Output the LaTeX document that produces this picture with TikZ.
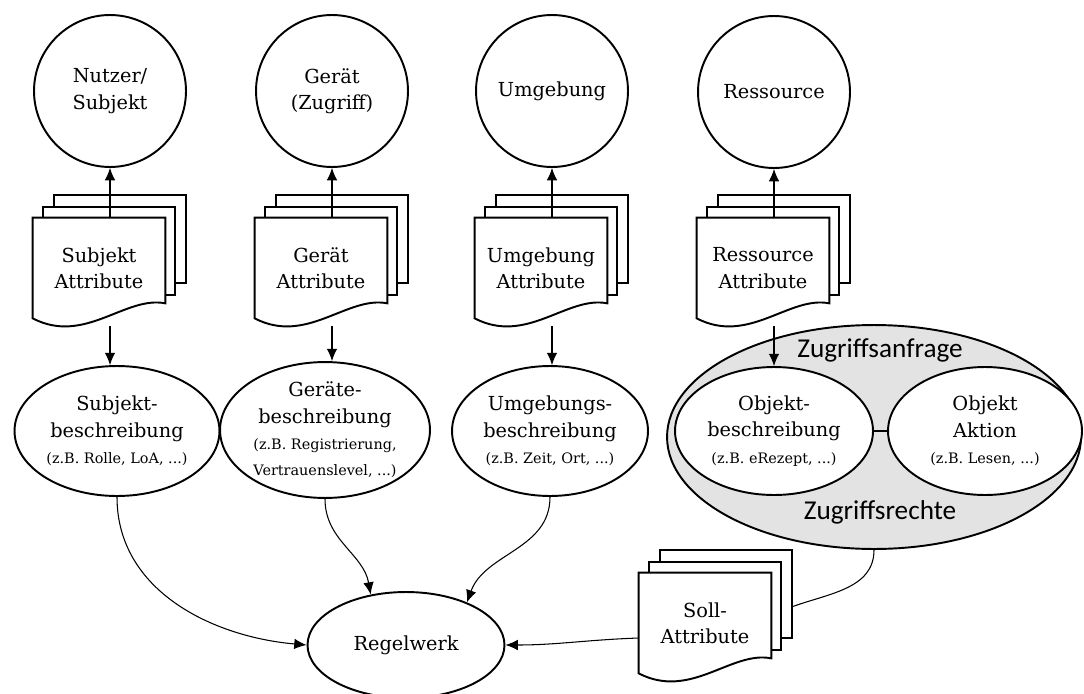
\documentclass[tikz,border=0pt]{standalone}
\usepackage{fontspec}
\setmainfont{DejaVu Serif}
\newfontfamily\labelfont{Carlito}
\usepackage{tikz}
\usetikzlibrary{shapes,arrows.meta,positioning,backgrounds}

\newcommand{\subtext}{\fontsize{8.2}{11.5}\selectfont}

% Stapel von Attribut-Dokumenten
\newcommand{\attrstack}[3]{%
  \node[attrdoc] (#1) at (#2) {#3};
  \begin{pgfonlayer}{background}
    \draw[sheet] ([shift={(21,-23)}]#1.north west) rectangle ([shift={(21,65)}]#1.north east);
    \draw[sheet] ([shift={(10,-11)}]#1.north west) rectangle ([shift={(10,77)}]#1.north east);
    \draw[sheet] (#1.north west) -- (#1.north east) -- ([shift={(0,-15)}]#1.south east)
      .. controls ([shift={(-40,-23)}]#1.south east) and ([shift={(52,27)}]#1.south west) .. (#1.south west) -- cycle;
  \end{pgfonlayer}
}

\tikzset{
  entity/.style={circle, draw, line width=1.1pt, minimum size=3.04cm, align=center, inner sep=0pt},
  attrdoc/.style={rectangle, minimum width=2.64cm, minimum height=2cm, inner sep=0pt, align=center},
  sheet/.style={draw, line width=1.1pt, fill=white},
  desc/.style={ellipse, draw, line width=1.1pt, fill=white, align=center, inner sep=0pt},
  conn/.style={-{Latex[length=7pt,width=6pt]}, line width=0.6pt},
  plain/.style={line width=0.6pt},
  grouplabel/.style={font=\labelfont\fontsize{15.5}{17}\selectfont},
}

\begin{document}
\begin{tikzpicture}[x=0.02cm, y=-0.02cm, font=\fontsize{11}{15}\selectfont]
    \useasboundingbox (0,0) rectangle (1084,693);

    % Entitaeten
    \node[entity] (nutzer) at (110,91) {Nutzer/\\Subjekt};
    \node[entity] (geraet) at (332,91) {Gerät\\(Zugriff)};
    \node[entity] (umgebung) at (552,91) {Umgebung};
    \node[entity] (ressource) at (774,92) {Ressource};

    % Attribute
    \attrstack{subattr}{99,268}{Subjekt\\Attribute}
    \attrstack{geraetattr}{321,268}{Gerät\\Attribute}
    \attrstack{umgattr}{541,268}{Umgebung\\Attribute}
    \attrstack{resattr}{763,268}{Ressource\\Attribute}
    \attrstack{soll}{705,623}{Soll-\\Attribute}

    \draw[conn] ([shift={(11,0)}]subattr.north) -- (nutzer.south);
    \draw[conn] ([shift={(11,0)}]geraetattr.north) -- (geraet.south);
    \draw[conn] ([shift={(11,0)}]umgattr.north) -- (umgebung.south);
    \draw[conn] ([shift={(11,0)}]resattr.north) -- (ressource.south);

    % Beschreibungen
    \node[desc, minimum width=4.1cm, minimum height=2.6cm] (subdesc) at (117,431)
        {Subjekt-\\beschreibung\\\subtext (z.B. Rolle, LoA, ...)};
    \node[desc, minimum width=4.2cm, minimum height=2.7cm] (geraetdesc) at (325,430)
        {Geräte-\\beschreibung\\\subtext (z.B. Registrierung,\\\subtext Vertrauenslevel, ...)};
    \node[desc, minimum width=3.92cm, minimum height=2.6cm] (umgdesc) at (550,431)
        {Umgebungs-\\beschreibung\\\subtext (z.B. Zeit, Ort, ...)};

    % Zugriffsanfrage
    \node[desc, fill=gray!22, minimum width=8.28cm, minimum height=4.48cm] (anfrage) at (874,437) {};
    \node[grouplabel] (anfragelbl) at (880,350) {Zugriffsanfrage};
    \node[grouplabel] (rechtelbl) at (880,512) {Zugriffsrechte};
    \node[desc, minimum width=3.96cm, minimum height=2.56cm] (objekt) at (774,431)
        {Objekt-\\beschreibung\\\subtext (z.B. eRezept, ...)};
    \node[desc, minimum width=3.88cm, minimum height=2.56cm] (aktion) at (985,431)
        {Objekt\\Aktion\\\subtext (z.B. Lesen, ...)};
    \draw[plain] (objekt) -- (aktion);

    \draw[conn] ([shift={(11,8)}]subattr.south) coordinate (s1) -- (s1 |- subdesc.north);
    \draw[conn] ([shift={(11,8)}]geraetattr.south) coordinate (s2) -- (s2 |- geraetdesc.north);
    \draw[conn] ([shift={(11,8)}]umgattr.south) coordinate (s3) -- (s3 |- umgdesc.north);
    \draw[conn] ([shift={(11,8)}]resattr.south) -- (objekt.north);

    % Regelwerk
    \node[desc, minimum width=3.94cm, minimum height=2.12cm] (regel) at (406,645) {Regelwerk};

    \draw[conn] (subdesc.south) to[out=-90, in=175] (regel.west);
    \draw[conn] (geraetdesc.south) to[out=-90, in=100] (regel.125);
    \draw[conn] (umgdesc.south) to[out=-90, in=70] (regel.35);
    \draw[conn] ([shift={(0,15)}]soll.west) to[out=182, in=0] (regel.east);
    \coordinate (sollrand) at ([shift={(21,34)}]soll.north east);
    \draw[plain] (anfrage.south) to[out=-90, in=20] (sollrand);
\end{tikzpicture}
\end{document}
